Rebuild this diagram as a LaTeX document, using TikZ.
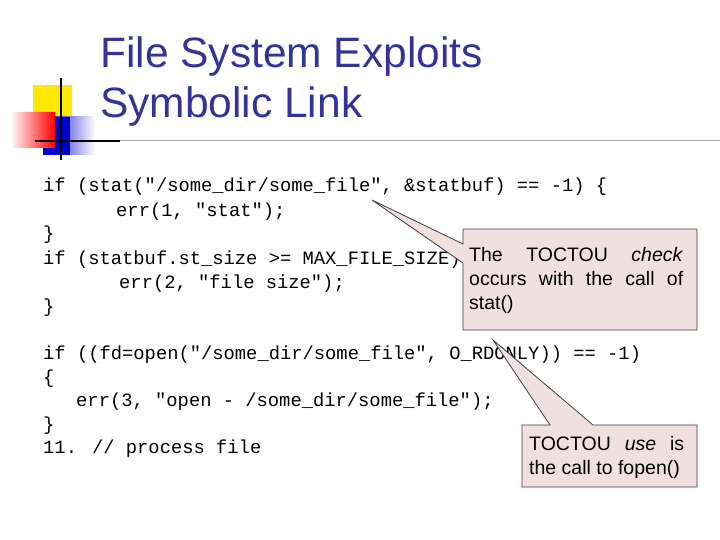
\documentclass[tikz,border=0pt]{standalone}
\usepackage{fontspec}
\setmainfont{Liberation Sans}
\newfontfamily\codefont{Liberation Mono}
\definecolor{titlecol}{HTML}{333399}
\definecolor{callfill}{HTML}{F0E0E0}
\definecolor{calldraw}{HTML}{404040}
\begin{document}
\begin{tikzpicture}[x=1pt,y=-1pt,
  code/.style={anchor=base west,inner sep=0,font=\codefont\fontsize{18.8}{22}\selectfont},
  title/.style={anchor=base west,inner sep=0,text=titlecol,font=\fontsize{42.5}{48}\selectfont},
  call/.style={fill=callfill,draw=calldraw,line width=0.8pt},
  calltext/.style={anchor=base west,inner sep=0,font=\fontsize{19.5}{24}\selectfont}]
\useasboundingbox (0,0) rectangle (720,540);
\fill[white] (0,0) rectangle (720,540);
% logo
\fill[yellow!90!orange] (33,85) rectangle (72,125);
\shade[left color=blue!80!black, right color=white] (43,117) rectangle (95,155);
\fill[blue!80!black] (43,117) rectangle (70,155);
\shade[left color=white, right color=red] (10,113) rectangle (55,148);
\draw[black,line width=1.2pt] (61,78) -- (61,160);
\draw[black,line width=1.2pt] (35,141) -- (120,141);
\draw[gray!60,line width=1pt] (120,141) -- (720,141);
% title
\node[title] (t1) at (100,68) {File System Exploits};
\node[title] (t2) at (100,118) {Symbolic Link};
% code
\node[code] (c1) at (43,192) {if (stat("/some\_dir/some\_file", \&statbuf) == -1) \{};
\node[code] (c2) at (116,216) {err(1, "stat");};
\node[code] (c3) at (43,240) {\}};
\node[code] (c4) at (43,264) {if (statbuf.st\_size >= MAX\_FILE\_SIZE) \{};
\node[code] (c5) at (119,288) {err(2, "file size");};
\node[code] (c6) at (43,312) {\}};
\node[code] (c7) at (43,359) {if ((fd=open("/some\_dir/some\_file", O\_RDONLY)) == -1)};
\node[code] (c8) at (43,383) {\{};
\node[code] (c9) at (76,406) {err(3, "open - /some\_dir/some\_file");};
\node[code] (c10) at (43,430) {\}};
\node[code] (c11) at (43,453) {11. // process file};
% callout 1
\draw[call] (463,229) -- (697,229) -- (697,330) -- (463,330) -- (463,263) -- (372,200) -- (463,244) -- cycle;
\node[calltext] (k1) at (469,261) {\makebox[214pt][s]{The TOCTOU \textit{check}}};
\node[calltext] (k2) at (469,285) {\makebox[214pt][s]{occurs with the call of}};
\node[calltext] (k3) at (469,309) {stat()};
% callout 2
\draw[call] (522,425) -- (550,425) -- (493,340) -- (593,425) -- (697,425) -- (697,487) -- (522,487) -- cycle;
\node[calltext] (m1) at (529,450) {\makebox[155pt][s]{TOCTOU \textit{use} is}};
\node[calltext] (m2) at (529,474) {the call to fopen()};
\end{tikzpicture}
\end{document}
